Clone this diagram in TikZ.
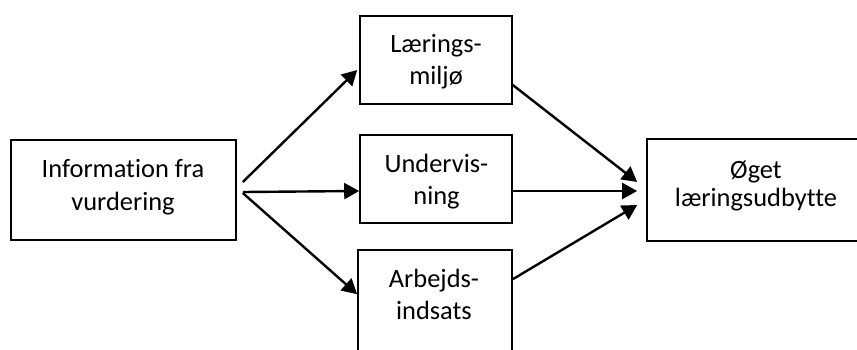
\documentclass[tikz,border=0pt]{standalone}
\usepackage{fontspec}
\setmainfont{Carlito}[Ligatures=NoCommon]
\usetikzlibrary{arrows.meta}
\begin{document}
\begin{tikzpicture}[x=1pt,y=-1pt,
  box/.style={draw,line width=1.6pt,inner sep=0pt,minimum width=#1},
  lbl/.style={anchor=base,inner sep=0pt,font=\fontsize{26.4}{32}\selectfont},
  conn/.style={line width=2.4pt,-{Triangle[length=15pt,width=16pt]}}]
\useasboundingbox (0,0) rectangle (857,349);
\clip (0,0) rectangle (857,349);
\node[box=225pt,minimum height=100pt] (L) at (123.5,190) {};
\node[box=152pt,minimum height=88pt] (T) at (436,60) {};
\node[box=152pt,minimum height=88pt] (M) at (436,179) {};
\node[box=154pt,minimum height=110pt] (B) at (435,305) {};
\node[box=213pt,minimum height=102pt] (R) at (753.5,190) {};
\node[lbl] (L1) at (123,177) {Information fra};
\node[lbl] (L2) at (123,210.7) {vurdering};
\node[lbl] (T1) at (436,52.7) {Lærings-};
\node[lbl] (T2) at (436,84.3) {miljø};
\node[lbl] (M1) at (436.5,172.3) {Undervis-};
\node[lbl] (M2) at (436.5,204) {ning};
\node[lbl] (B1) at (434,287.3) {Arbejds-};
\node[lbl] (B2) at (434,319) {indsats};
\node[lbl] (R1) at (756,178.3) {Øget};
\node[lbl] (R2) at (756,206) {læringsudbytte};
\draw[conn] ([shift={(6,-8)}]L.east) -- ([shift={(-2,10)}]T.west);
\draw[conn] ([shift={(6,2)}]L.east) -- ([shift={(0,12)}]M.west);
\draw[conn] ([shift={(6,3)}]L.east) -- ([shift={(0,45)}]B.north west);
\draw[conn] ([shift={(0,25)}]T.east) -- ([shift={(-9,-8)}]R.west);
\draw[conn] ([shift={(0,12)}]M.east) -- ([shift={(-9,1)}]R.west);
\draw[conn] ([shift={(0,30)}]B.north east) -- ([shift={(-9,15)}]R.west);
\end{tikzpicture}
\end{document}
